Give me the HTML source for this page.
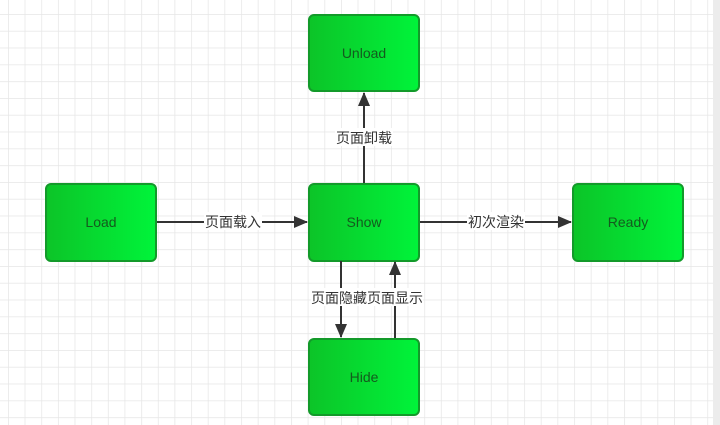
<!DOCTYPE html>
<html><head><meta charset="utf-8"><style>
html,body{margin:0;padding:0;background:#fff;}
svg{display:block;}
text{font-family:"Liberation Sans","Noto Sans CJK SC",sans-serif;}
</style></head><body>
<svg width="720" height="425" viewBox="0 0 720 425" xmlns="http://www.w3.org/2000/svg">
<defs>
<pattern id="g" x="8" y="14" width="16.65" height="16.8" patternUnits="userSpaceOnUse">
<path d="M0 0H16.65M0 0V16.8" stroke="#e6e6e6" stroke-width="1.5" fill="none"/>
</pattern>
<linearGradient id="gr" x1="0" x2="1" y1="0" y2="0">
<stop offset="0" stop-color="#0cc428"/><stop offset="1" stop-color="#00f43a"/>
</linearGradient>
<marker id="a" markerWidth="14" markerHeight="12" refX="13" refY="6" orient="auto" markerUnits="userSpaceOnUse">
<path d="M0 0L14 6L0 12z" fill="#333"/>
</marker>
</defs>
<rect width="720" height="425" fill="url(#g)"/>
<rect x="713" y="0" width="7" height="425" fill="#ececec"/>
<g fill="url(#gr)" stroke="#139a2a" stroke-width="2">
<rect x="309" y="15" width="110" height="76" rx="5"/>
<rect x="46" y="184" width="110" height="77" rx="5"/>
<rect x="309" y="184" width="110" height="77" rx="5"/>
<rect x="573" y="184" width="110" height="77" rx="5"/>
<rect x="309" y="339" width="110" height="76" rx="5"/>
</g>
<g font-size="14" fill="#145a1e" text-anchor="middle">
<text x="364" y="58">Unload</text>
<text x="101" y="227">Load</text>
<text x="364" y="227">Show</text>
<text x="628" y="227">Ready</text>
<text x="364" y="382">Hide</text>
</g>
<g stroke="#333" stroke-width="2" fill="none">
<path d="M157 222H307" marker-end="url(#a)"/>
<path d="M420 222H571" marker-end="url(#a)"/>
<path d="M364 183V93" marker-end="url(#a)"/>
<path d="M341 261V337" marker-end="url(#a)"/>
<path d="M395 338V262" marker-end="url(#a)"/>
</g>
<g font-size="14" fill="#333" text-anchor="middle">
<rect x="204" y="212" width="58" height="18" fill="#fff"/>
<text x="233" y="227">页面载入</text>
<rect x="467" y="212" width="58" height="18" fill="#fff"/>
<text x="496" y="227">初次渲染</text>
<rect x="335" y="128" width="58" height="18" fill="#fff"/>
<text x="364" y="143">页面卸载</text>
<rect x="311" y="288" width="112" height="18" fill="#fff"/>
<text x="367" y="303">页面隐藏页面显示</text>
</g>
</svg>
</body></html>
